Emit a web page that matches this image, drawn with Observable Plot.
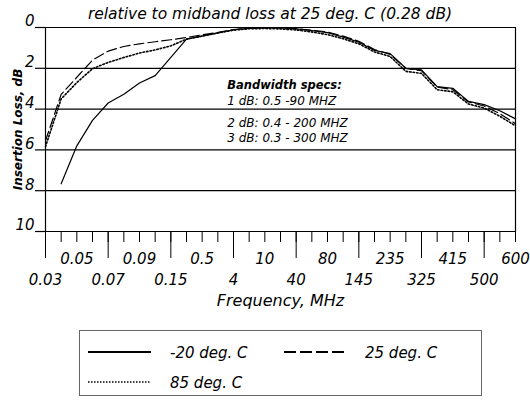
<!DOCTYPE html>
<html>
<head>
<meta charset="utf-8">
<script src="https://cdn.jsdelivr.net/npm/d3@7"></script>
<script src="https://cdn.jsdelivr.net/npm/@observablehq/plot@0.6"></script>
<style>
  body { margin: 0; background: #fff; font-family: "DejaVu Sans", sans-serif; }
  #page { position: relative; width: 530px; height: 400px; overflow: hidden; }
  #title { height: 20px; line-height: 20px; font-size: 15.5px; font-style: italic; text-align: center; padding-left: 10px; position: relative; top: 4px; }
  #legend { position: absolute; left: 79px; top: 330px; width: 401px; height: 64px; border: 1.5px solid #666; }
  #legend .s { position: absolute; }
  #legend .t { position: absolute; font-size: 15px; font-style: italic; line-height: 18px; }
</style>
</head>
<body>
<div id="page">
  <div id="title">relative to midband loss at 25 deg. C (0.28 dB)</div>
  <div id="chart"></div>
  <div id="legend"></div>
</div>
<script>
// tick labels (31 category positions, labelled every other one, alternating rows)
const labelsLow  = ["0.03", "0.07", "0.15", "4", "40", "145", "325", "500"];
const labelsHigh = ["0.05", "0.09", "0.5", "10", "80", "235", "415", "600"];
const yTicks = [0, 2, 4, 6, 8, 10];

// series: insertion loss (dB) at each of the 31 frequency positions
const lossM20 = [null, 7.66, 5.8, 4.55, 3.7, 3.27, 2.72, 2.36, 1.46, 0.57, 0.42, 0.26, 0.11, 0.04, 0.02, 0.02, 0.07, 0.15, 0.25, 0.47, 0.72, 1.12, 1.28, 2.0, 2.08, 2.9, 2.98, 3.62, 3.78, 4.08, 4.48];
const loss25  = [5.55, 3.28, 2.44, 1.6, 1.16, 0.93, 0.8, 0.7, 0.6, 0.49, 0.36, 0.24, 0.1, 0.03, 0.01, 0.02, 0.06, 0.13, 0.22, 0.42, 0.68, 1.08, 1.32, 2.0, 2.12, 2.92, 3.05, 3.65, 3.85, 4.22, 4.72];
const loss85  = [5.84, 3.5, 2.7, 2.02, 1.71, 1.47, 1.25, 1.1, 0.9, 0.57, 0.42, 0.27, 0.13, 0.06, 0.05, 0.07, 0.12, 0.22, 0.35, 0.55, 0.8, 1.2, 1.42, 2.15, 2.25, 3.05, 3.15, 3.75, 3.95, 4.35, 4.82];

const seriesNames = ["-20 deg. C", "25 deg. C", "85 deg. C"];
const specTitle = "Bandwidth specs:";
const specs = ["1 dB: 0.5 -90 MHZ", "2 dB: 0.4 - 200 MHZ", "3 dB: 0.3 - 300 MHZ"];
const yTitle = "Insertion Loss, dB";
const xTitle = "Frequency, MHz";

const nPos = 31;
const allIdx = d3.range(nPos);
const lowIdx = labelsLow.map((d, i) => i * 4);
const highIdx = labelsHigh.map((d, i) => i * 4 + 2);

const txt = {fontFamily: "DejaVu Sans", fontStyle: "italic"};

const chart = Plot.plot({
  width: 530,
  height: 290,
  marginTop: 7,
  marginBottom: 79,
  marginLeft: 45,
  marginRight: 15,
  style: {fontFamily: "DejaVu Sans", background: "white", overflow: "visible"},
  x: {domain: [0, nPos - 1]},
  y: {domain: [0, 10], reverse: true},
  marks: [
    Plot.ruleY(yTicks, {stroke: "black", strokeWidth: 1.2}),
    Plot.ruleX([0, nPos - 1], {stroke: "black", strokeWidth: 1.2}),
    Plot.axisY({ticks: yTicks, tickSize: 10, tickFormat: () => "", label: null, stroke: "black", strokeWidth: 1.2}),
    Plot.text(yTicks, {y: d => d, frameAnchor: "left", dx: -11, dy: -6, textAnchor: "end", lineAnchor: "middle", fontSize: 15, ...txt}),
    Plot.axisX({ticks: allIdx, tickSize: 11, tickFormat: () => "", label: null, stroke: "black"}),
    Plot.axisX({ticks: lowIdx, tickSize: 27, tickFormat: () => "", label: null, stroke: "black"}),
    Plot.text(labelsHigh, {x: (d, i) => highIdx[i], frameAnchor: "bottom", dy: 28, lineAnchor: "middle", fontSize: 15, ...txt}),
    Plot.text(labelsLow, {x: (d, i) => lowIdx[i], frameAnchor: "bottom", dy: 49, lineAnchor: "middle", fontSize: 15, ...txt}),
    Plot.text([xTitle], {frameAnchor: "bottom", dy: 69, lineAnchor: "middle", fontSize: 16, ...txt}),
    Plot.text([yTitle], {frameAnchor: "left", dx: -27, rotate: -90, textAnchor: "middle", lineAnchor: "middle", fontSize: 12, fontWeight: "bold", ...txt}),
    Plot.text([specTitle], {x: () => 11.6, y: () => 2.85, textAnchor: "start", lineAnchor: "middle", fontSize: 11.5, fontWeight: "bold", ...txt}),
    Plot.text(specs, {x: () => 11.6, y: (d, i) => [3.59, 4.7, 5.4][i], textAnchor: "start", lineAnchor: "middle", fontSize: 12, ...txt}),
    Plot.lineY(loss85, {x: (d, i) => i, y: d => d, stroke: "black", strokeWidth: 1.6, strokeDasharray: "1.5,2"}),
    Plot.lineY(loss25, {x: (d, i) => i, y: d => d, stroke: "black", strokeWidth: 1.2, strokeDasharray: "10,4"}),
    Plot.lineY(lossM20, {x: (d, i) => i, y: d => d, stroke: "black", strokeWidth: 1.2})
  ]
});
document.getElementById("chart").appendChild(chart);

// legend
const legend = document.getElementById("legend");
const legendItems = [
  {name: seriesNames[0], dash: null, width: 2, lx: 8, tx: 90, y: 21},
  {name: seriesNames[1], dash: "12,4", width: 2, lx: 204, tx: 285, y: 21},
  {name: seriesNames[2], dash: "1.5,1.5", width: 1.5, lx: 8, tx: 90, y: 51}
];
for (const it of legendItems) {
  const s = document.createElementNS("http://www.w3.org/2000/svg", "svg");
  s.setAttribute("class", "s");
  s.setAttribute("width", 64); s.setAttribute("height", 6);
  s.style.left = it.lx + "px"; s.style.top = (it.y - 3) + "px";
  const l = document.createElementNS("http://www.w3.org/2000/svg", "line");
  l.setAttribute("x1", 0); l.setAttribute("x2", 63); l.setAttribute("y1", 3); l.setAttribute("y2", 3);
  l.setAttribute("stroke", "black"); l.setAttribute("stroke-width", it.width);
  if (it.dash) l.setAttribute("stroke-dasharray", it.dash);
  s.appendChild(l);
  legend.appendChild(s);
  const t = document.createElement("div");
  t.className = "t";
  t.textContent = it.name;
  t.style.left = it.tx + "px"; t.style.top = (it.y - 8) + "px";
  legend.appendChild(t);
}
</script>
</body>
</html>
